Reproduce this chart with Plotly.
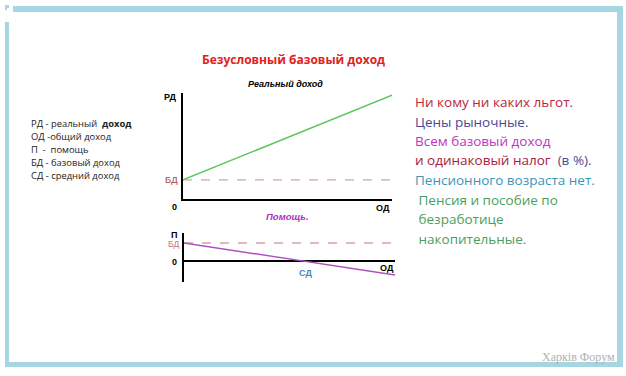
import plotly.graph_objects as go

W, H = 626, 376

# ---- data ----
od_top = [0, 10]            # общий доход (x)
rd_top = [1.8, 9.8]         # реальный доход
bd = 1.8                    # базовый доход
od_bot = [0, 10]
pomosh = [1.8, -1.4]        # помощь
sd = 5.6                    # средний доход

legend_lines = ["РД - реальный  <b>доход</b>", "ОД -общий доход", "П  -  помощь",
                "БД - базовый доход", "СД - средний доход"]
right_lines = [
    ("Ни кому ни каких льгот.", "#b8283c"),
    ("Цены рыночные.", "#4a4a90"),
    ("Всем базовый доход", "#c035c0"),
    ("и одинаковый налог  <span style='color:#4a4a90'>(в %).</span>", "#a8203c"),
    ("Пенсионного возраста нет.", "#3a96b8"),
    (" Пенсия и пособие по", "#4aa060"),
    (" безработице", "#4aa060"),
    (" накопительные.", "#4aa060"),
]


def px(x):
    return x / W


def py(y):
    return 1 - y / H


fig = go.Figure()

# top chart
fig.add_trace(go.Scatter(x=[od_top[0], od_top[-1]], y=[bd, bd], mode="lines",
                         line=dict(color="#d4a4a4", width=1.3, dash="dash"),
                         xaxis="x", yaxis="y", hoverinfo="skip"))
fig.add_trace(go.Scatter(x=od_top, y=rd_top, mode="lines",
                         line=dict(color="#5cc85c", width=1.5),
                         xaxis="x", yaxis="y", hoverinfo="skip"))
# bottom chart
fig.add_trace(go.Scatter(x=[od_bot[0], od_bot[-1]], y=[bd, bd], mode="lines",
                         line=dict(color="#d4a4a4", width=1.3, dash="dash"),
                         xaxis="x2", yaxis="y2", hoverinfo="skip"))
fig.add_trace(go.Scatter(x=od_bot, y=pomosh, mode="lines",
                         line=dict(color="#b050c0", width=1.5),
                         xaxis="x2", yaxis="y2", hoverinfo="skip"))

axis_common = dict(showgrid=False, showticklabels=False, ticks="", fixedrange=True)

fig.update_layout(
    width=W, height=H, margin=dict(l=0, r=0, t=0, b=0),
    paper_bgcolor="white", plot_bgcolor="rgba(0,0,0,0)", showlegend=False,
    xaxis=dict(domain=[px(183), px(392)], range=[0, 10], showline=True,
               linecolor="black", linewidth=2, zeroline=False, anchor="y", **axis_common),
    yaxis=dict(domain=[py(199), py(93)], range=[0, 10], showline=True,
               linecolor="black", linewidth=2, zeroline=False, anchor="x", **axis_common),
    xaxis2=dict(domain=[px(184), px(395)], range=[0, 10], showline=False,
                zeroline=False, anchor="y2", **axis_common),
    yaxis2=dict(domain=[py(282), py(233)], range=[-2.1, 2.8], showline=True,
                linecolor="black", linewidth=2, zeroline=True, zerolinecolor="black",
                zerolinewidth=2, anchor="x2", **axis_common),
)

ann = []
lab = dict(family="Liberation Sans", size=9, color="black")
# top chart labels
ann.append(dict(x=0, y=10, xref="x", yref="y", text="<b>РД</b>", showarrow=False,
                xanchor="right", yanchor="middle", xshift=-5, yshift=-4, font=lab))
ann.append(dict(x=0, y=bd, xref="x", yref="y", text="БД", showarrow=False,
                xanchor="right", yanchor="middle", xshift=-3,
                font=dict(family="Liberation Sans", size=9.5, color="#b04040")))
ann.append(dict(x=0, y=0, xref="x", yref="y", text="<b>0</b>", showarrow=False,
                xanchor="right", yanchor="top", xshift=-4, yshift=-1, font=lab))
ann.append(dict(x=10, y=0, xref="x", yref="y", text="<b>ОД</b>", showarrow=False,
                xanchor="center", yanchor="top", xshift=-9, yshift=-2, font=lab))
ann.append(dict(x=px(285), y=py(84), xref="paper", yref="paper",
                text="<b><i>Реальный доход</i></b>", showarrow=False,
                xanchor="center", yanchor="middle",
                font=dict(family="Liberation Sans", size=9, color="black")))
ann.append(dict(x=px(287), y=py(216), xref="paper", yref="paper",
                text="<b><i>Помощь.</i></b>", showarrow=False,
                xanchor="center", yanchor="middle",
                font=dict(family="Liberation Sans", size=9.5, color="#b030c0")))
# bottom chart labels
ann.append(dict(x=0, y=2.8, xref="x2", yref="y2", text="<b>П</b>", showarrow=False,
                xanchor="right", yanchor="middle", xshift=-5, yshift=-2, font=lab))
ann.append(dict(x=0, y=bd, xref="x2", yref="y2", text="БД", showarrow=False,
                xanchor="right", yanchor="middle", xshift=-2, yshift=-1,
                font=dict(family="Liberation Sans", size=8.5, color="#c07878")))
ann.append(dict(x=0, y=0, xref="x2", yref="y2", text="<b>0</b>", showarrow=False,
                xanchor="right", yanchor="middle", xshift=-5, yshift=-1, font=lab))
ann.append(dict(x=10, y=0, xref="x2", yref="y2", text="<b>ОД</b>", showarrow=False,
                xanchor="center", yanchor="top", xshift=-8, yshift=0, font=lab))
ann.append(dict(x=sd, y=0, xref="x2", yref="y2", text="<b>СД</b>", showarrow=False,
                xanchor="center", yanchor="top", xshift=3, yshift=-5,
                font=dict(family="Liberation Sans", size=9, color="#4a88b8")))

# title
ann.append(dict(x=px(293), y=py(60), xref="paper", yref="paper",
                text="<b>Безусловный базовый доход</b>", showarrow=False,
                xanchor="center", yanchor="middle",
                font=dict(family="Open Sans", size=12, color="#e02222")))

# left legend
for i, t in enumerate(legend_lines):
    ann.append(dict(x=px(29), y=py(123 + i * 13.1), xref="paper", yref="paper",
                    text=t, showarrow=False, xanchor="left", yanchor="middle",
                    font=dict(family="Open Sans", size=9.4, color="#222222")))

# right text
for i, (t, c) in enumerate(right_lines):
    ann.append(dict(x=px(413), y=py(102 + i * 19.5), xref="paper", yref="paper",
                    text=t, showarrow=False, xanchor="left", yanchor="middle",
                    font=dict(family="Open Sans", size=13.5, color=c)))

# watermark
ann.append(dict(x=px(617), y=py(357), xref="paper", yref="paper",
                text="Харків Форум", showarrow=False, xanchor="right",
                yanchor="middle",
                font=dict(family="Liberation Serif", size=12, color="#b0b0b0")))

fig.update_layout(annotations=ann)

# frame
frame_col = "#a6d6e2"
shapes = []
def rect(x0, y0, x1, y1):
    shapes.append(dict(type="rect", xref="paper", yref="paper",
                       x0=px(x0), x1=px(x1), y0=py(y1), y1=py(y0),
                       fillcolor=frame_col, line=dict(width=0), layer="below"))
rect(13, 6, 623, 12)    # top
rect(617, 6, 623, 367)  # right
rect(5, 22, 9, 367)     # left
rect(5, 362, 623, 367)  # bottom
rect(5, 5, 9, 8)        # small corner mark
rect(5, 5, 7, 10)
fig.update_layout(shapes=shapes)

fig.write_html("out.html", config={"displayModeBar": False},
               post_script="document.body.style.margin='0';document.body.style.overflow='hidden';")
